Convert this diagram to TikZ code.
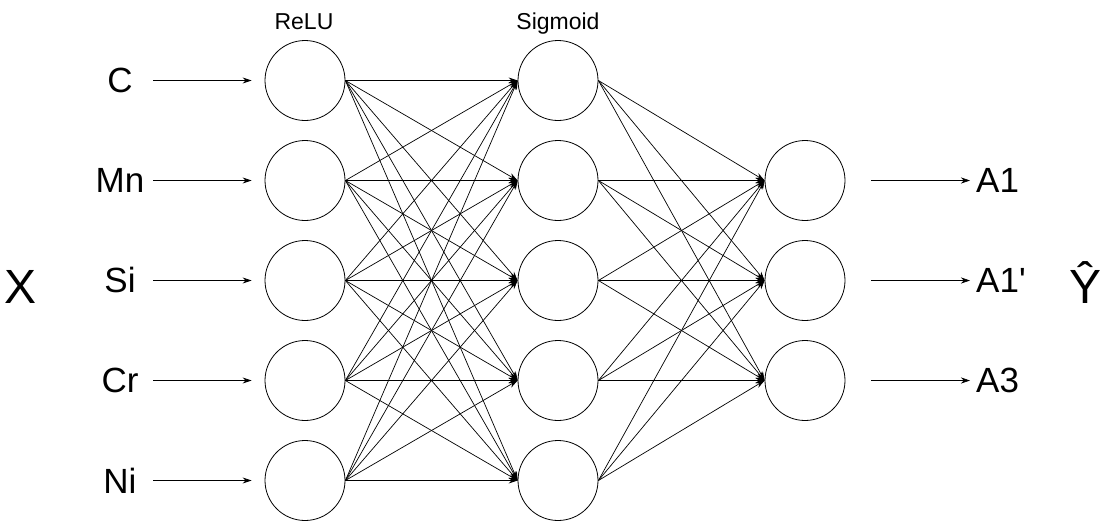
\documentclass[tikz,border=0pt]{standalone}
\usepackage{fontspec}
\setmainfont{Liberation Sans}
\usetikzlibrary{arrows.meta}
\begin{document}
\begin{tikzpicture}[x=1pt,y=-1pt,
  neuron/.style={circle,draw,line width=0.8pt,minimum size=80pt,inner sep=0pt},
  conn/.style={line width=0.7pt,-{Stealth[length=9pt,width=6pt]}},
  iolabel/.style={font=\fontsize{35}{40}\selectfont,inner sep=0pt},
  biglabel/.style={font=\fontsize{48}{54}\selectfont,inner sep=0pt,anchor=base},
  actlabel/.style={font=\fontsize{23}{27}\selectfont,inner sep=0pt,anchor=base}]
\useasboundingbox (0,0) rectangle (1111,520);
\foreach \i/\y in {1/80.5,2/180.5,3/280.5,4/380.5,5/480.5}{
  \node[neuron] (h\i) at (305,\y) {};
  \node[neuron] (s\i) at (558,\y) {};
  \coordinate (in\i) at (153,\y);
}
\foreach \i/\y in {1/180.5,2/280.5,3/380.5}{
  \node[neuron] (o\i) at (805,\y) {};
  \coordinate (out\i) at (970,\y);
}
% input labels
\foreach \i/\t/\y in {1/C/92,2/Mn/192,3/Si/292,4/Cr/392,5/Ni/493}{
  \node[iolabel,anchor=base] (lab\i) at (120,\y) {\t};
  \draw[conn] (in\i) -- (h\i.west) [shorten >=13pt];
}
% output labels
\foreach \i/\t/\y in {1/A1/192,2/A1\textquotesingle/292,3/A3/392}{
  \node[iolabel,anchor=base west] (olab\i) at (976,\y) {\t};
  \draw[conn,shorten <=26pt] (o\i.east) -- (out\i);
}
% connections
\foreach \i in {1,...,5}{
  \foreach \j in {1,...,5}{
    \draw[conn] (h\i.east) -- (s\j.west);
  }
  \foreach \j in {1,2,3}{
    \draw[conn] (s\i.east) -- (o\j.west);
  }
}
\node[biglabel] (X) at (21,303) {X};
\node[biglabel] (Y) at (1085,303) {Ŷ};
\node[actlabel] (relu) at (304,29) {ReLU};
\node[actlabel] (sig) at (558,29) {Sigmoid};
\end{tikzpicture}
\end{document}
